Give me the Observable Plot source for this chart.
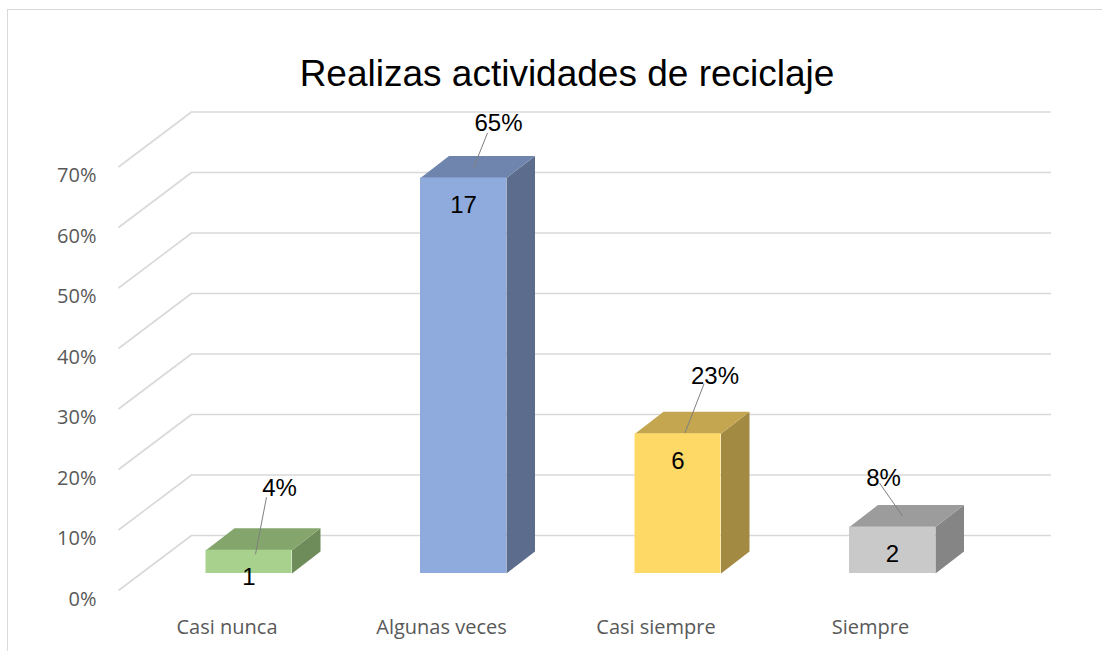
<!DOCTYPE html>
<html><head><meta charset="utf-8">
<script src="https://cdn.jsdelivr.net/npm/d3@7"></script>
<script src="https://cdn.jsdelivr.net/npm/@observablehq/plot@0.6"></script>
<style>
html,body{margin:0;padding:0;background:#fff;overflow:hidden;}
#wrap{position:relative;width:1102px;height:651px;overflow:hidden;}
#frame{position:absolute;left:7px;top:9px;width:1200px;height:700px;border-left:1.5px solid #d9d9d9;border-top:1.5px solid #d9d9d9;}
#title{position:absolute;left:0;top:51px;width:1134px;text-align:center;font-family:"Liberation Sans",Arial,sans-serif;font-size:37px;color:#000;line-height:46px;}
#chart{position:absolute;left:0;top:0;}
</style></head><body>
<div id="wrap"><div id="frame"></div><div id="title">Realizas actividades de reciclaje</div><div id="chart"></div></div>
<script>
// ---- data ----
const categories = ["Casi nunca", "Algunas veces", "Casi siempre", "Siempre"];
const counts = [1, 17, 6, 2];
const percents = [3.85, 65.38, 23.08, 7.69];
const pctLabels = ["4%", "65%", "23%", "8%"];
const yTicks = [0, 10, 20, 30, 40, 50, 60, 70];
const yTickLabels = ["0%", "10%", "20%", "30%", "40%", "50%", "60%", "70%"];

// ---- styles ----
const frontColors = ["#a9d18e", "#8faadc", "#ffd966", "#c9c9c9"];
const topColors = ["#84a66c", "#6f85ad", "#c4a650", "#9c9c9c"];
const sideColors = ["#6e8c5a", "#5b6c8d", "#a38a42", "#858585"];
const pctLabelOffsets = [[30.5, -62], [35, -55], [37, -58], [-9, -49]];
const leaderStartOffsets = [[-13, 9], [-11, 10], [-11, 8], [-4, 5]];
const leaderEndOffsets = [[6.5, 4], [10, -10], [7, -1], [10, -11]];

// pixel geometry of the 3D projection
const X0 = 248.5, XU = 214.5;   // px of first category, px per category step
const Y0 = 573, YU = 6.05;      // px of 0%, px per 1%
const ux = px => px / XU;
const uy = px => -px / YU;
const hw = ux(43);              // bar half width
const ddx = ux(28.5), ddy = uy(-22);   // bar depth
const frontX = ux(-22), frontY = uy(17);   // front plane offset
const backX = ux(51), backY = uy(-38);     // back wall offset
const wallLeft = ux(118 - X0), wallRight = ux(1051 - X0);

const bars = categories.map((k, i) => ({
  k, i, n: counts[i], p: percents[i], lab: pctLabels[i],
  front: frontColors[i], top: topColors[i], side: sideColors[i],
  lo: pctLabelOffsets[i], ls: leaderStartOffsets[i], le: leaderEndOffsets[i]
}));

const topFaces = bars.flatMap(d => [
  {k: d.k, c: d.top, x: d.i - hw, y: d.p},
  {k: d.k, c: d.top, x: d.i + hw, y: d.p},
  {k: d.k, c: d.top, x: d.i + hw + ddx, y: d.p + ddy},
  {k: d.k, c: d.top, x: d.i - hw + ddx, y: d.p + ddy}
]);
const sideFaces = bars.flatMap(d => [
  {k: d.k, c: d.side, x: d.i + hw, y: 0},
  {k: d.k, c: d.side, x: d.i + hw, y: d.p},
  {k: d.k, c: d.side, x: d.i + hw + ddx, y: d.p + ddy},
  {k: d.k, c: d.side, x: d.i + hw + ddx, y: ddy}
]);

const grid = "#d9d9d9";
const axisFont = "'Open Sans', Lato, sans-serif";
const chart = Plot.plot({
  width: 1102,
  height: 651,
  marginLeft: 0, marginRight: 0, marginTop: 0, marginBottom: 0,
  style: {background: "transparent", overflow: "visible"},
  x: {type: "linear", domain: [0, 3], range: [X0, X0 + 3 * XU], axis: null},
  y: {type: "linear", domain: [0, 70], range: [Y0, Y0 - 70 * YU], axis: null},
  color: {type: "identity"},
  marks: [
    // back wall gridlines
    Plot.ruleY(yTicks, {y: v => v + backY, x1: wallLeft + (backX - frontX), x2: wallRight, stroke: grid, strokeWidth: 1.6}),
    // side wall diagonals
    Plot.link(yTicks, {x1: wallLeft, y1: v => v + frontY, x2: wallLeft + (backX - frontX), y2: v => v + backY, stroke: grid, strokeWidth: 1.6}),
    // y tick labels
    Plot.text(yTicks, {x: ux(96 - X0), y: v => v, dy: 26, text: (v, i) => yTickLabels[i], textAnchor: "end",
      fontFamily: axisFont, fontSize: 20, fill: "#595959"}),
    // category labels
    Plot.text(bars, {x: d => d.i + frontX, y: 0, dy: 54, text: "k",
      fontFamily: axisFont, fontSize: 20, fill: "#595959"}),
    // bar faces
    Plot.line(sideFaces, {x: "x", y: "y", z: "k", fill: "c", stroke: "none"}),
    Plot.line(topFaces, {x: "x", y: "y", z: "k", fill: "c", stroke: "none"}),
    Plot.rect(bars, {x1: d => d.i - hw, x2: d => d.i + hw, y1: 0, y2: "p", fill: "front"}),
    // leader lines
    Plot.link(bars, {
      x1: d => d.i + ux(d.lo[0] + d.ls[0]), y1: d => d.p + uy(d.lo[1] + d.ls[1]),
      x2: d => d.i + ux(d.le[0]), y2: d => d.p + uy(d.le[1]),
      stroke: "#7f7f7f", strokeWidth: 1
    }),
    // count labels
    Plot.text(bars, {x: "i", y: "p", dy: 27, text: d => String(d.n),
      fontFamily: "'Liberation Sans', Arial, sans-serif", fontSize: 24, fill: "#000"}),
    // percent labels
    Plot.text(bars, {x: d => d.i + ux(d.lo[0]), y: d => d.p + uy(d.lo[1]), text: "lab",
      fontFamily: "'Liberation Sans', Arial, sans-serif", fontSize: 24, fill: "#000"})
  ]
});
document.getElementById("chart").appendChild(chart);
</script>
</body></html>
